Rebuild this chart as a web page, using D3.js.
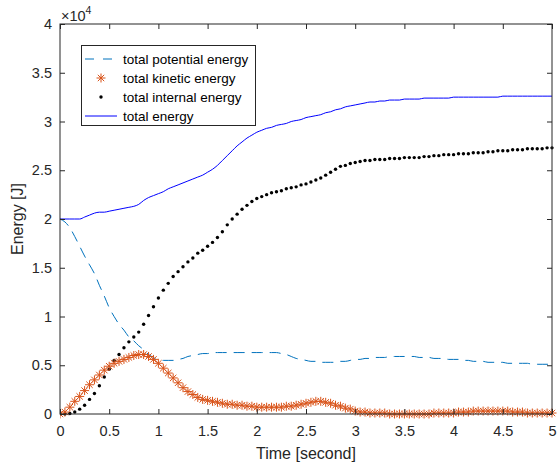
<!DOCTYPE html>
<html>
<head>
<meta charset="utf-8">
<script src="https://cdn.jsdelivr.net/npm/d3@7"></script>
<style>
  body { margin: 0; background: #fff; }
  svg { display: block; font-family: "Liberation Sans", Arial, sans-serif; }
  .tick text { fill: #262626; font-size: 14.5px; }
  .tick line { stroke: #262626; }
  .domain { stroke: none; }
</style>
</head>
<body>
<svg></svg>
<script>
// time samples [s]
const timeSec = [
  0.00, 0.05, 0.10, 0.15, 0.20, 0.25, 0.30, 0.35, 0.40, 0.45,
  0.50, 0.55, 0.60, 0.65, 0.70, 0.75, 0.80, 0.85, 0.90, 0.95,
  1.00, 1.05, 1.10, 1.15, 1.20, 1.25, 1.30, 1.35, 1.40, 1.45,
  1.50, 1.55, 1.60, 1.65, 1.70, 1.75, 1.80, 1.85, 1.90, 1.95,
  2.00, 2.05, 2.10, 2.15, 2.20, 2.25, 2.30, 2.35, 2.40, 2.45,
  2.50, 2.55, 2.60, 2.65, 2.70, 2.75, 2.80, 2.85, 2.90, 2.95,
  3.00, 3.05, 3.10, 3.15, 3.20, 3.25, 3.30, 3.35, 3.40, 3.45,
  3.50, 3.55, 3.60, 3.65, 3.70, 3.75, 3.80, 3.85, 3.90, 3.95,
  4.00, 4.05, 4.10, 4.15, 4.20, 4.25, 4.30, 4.35, 4.40, 4.45,
  4.50, 4.55, 4.60, 4.65, 4.70, 4.75, 4.80, 4.85, 4.90, 4.95,
  5.00
];

// energies [J]
const potentialEnergy = [
  20000, 19700, 19100, 18200, 17200, 16200, 15300, 14400, 13200, 12100,
  10900, 10000, 9200, 8600, 7900, 7500, 7000, 6600, 6100, 5800,
  5500, 5500, 5500, 5500, 5600, 5700, 5900, 6000, 6100, 6200,
  6200, 6300, 6300, 6300, 6300, 6300, 6300, 6300, 6300, 6300,
  6300, 6300, 6300, 6300, 6300, 6200, 6100, 5900, 5700, 5600,
  5500, 5400, 5400, 5300, 5300, 5300, 5300, 5400, 5400, 5500,
  5600, 5600, 5700, 5700, 5800, 5800, 5800, 5900, 5900, 5900,
  5900, 5900, 5900, 5800, 5800, 5800, 5700, 5700, 5700, 5600,
  5600, 5600, 5500, 5500, 5400, 5400, 5400, 5300, 5300, 5300,
  5300, 5200, 5200, 5200, 5200, 5200, 5100, 5100, 5100, 5100,
  5100
];

const kineticEnergy = [
  0, 200, 700, 1300, 1800, 2400, 3000, 3500, 4000, 4500,
  4900, 5200, 5400, 5600, 5800, 6000, 6100, 6100, 5900, 5600,
  5200, 4700, 4200, 3700, 3200, 2700, 2300, 2000, 1700, 1500,
  1400, 1300, 1200, 1100, 1000, 1000, 900, 900, 800, 800,
  700, 700, 700, 700, 700, 700, 800, 800, 900, 1000,
  1100, 1200, 1300, 1300, 1200, 1100, 900, 800, 600, 500,
  300, 200, 200, 100, 100, 100, 100, 0, 0, 0,
  0, 0, 0, 0, 0, 0, 100, 100, 100, 100,
  100, 200, 200, 200, 300, 300, 300, 300, 300, 300,
  300, 300, 200, 200, 200, 100, 100, 100, 100, 100,
  100
];

const internalEnergy = [
  0, 0, 50, 200, 500, 900, 1500, 2100, 2900, 3800,
  4600, 5500, 6100, 6800, 7400, 7900, 8400, 9200, 10100, 11000,
  11900, 12700, 13400, 14100, 14600, 15100, 15600, 16000, 16500, 16800,
  17200, 17600, 18100, 18700, 19400, 20000, 20500, 21000, 21400, 21800,
  22100, 22300, 22500, 22700, 22800, 22900, 23100, 23200, 23300, 23500,
  23600, 23800, 24000, 24200, 24500, 24800, 25100, 25400, 25500, 25700,
  25800, 25900, 26000, 26000, 26100, 26100, 26100, 26200, 26200, 26200,
  26300, 26300, 26300, 26300, 26400, 26400, 26500, 26500, 26600, 26600,
  26600, 26700, 26700, 26700, 26800, 26800, 26800, 26900, 26900, 27000,
  27000, 27000, 27100, 27100, 27100, 27200, 27200, 27200, 27200, 27300,
  27300
];

const totalEnergy = [
  20000, 20000, 20000, 20000, 20000, 20200, 20400, 20600, 20700, 20700,
  20800, 20900, 21000, 21100, 21200, 21300, 21500, 21900, 22200, 22400,
  22600, 22800, 23100, 23300, 23500, 23700, 23900, 24100, 24300, 24500,
  24800, 25100, 25500, 26000, 26500, 27000, 27500, 27900, 28300, 28600,
  28900, 29100, 29300, 29400, 29600, 29700, 29800, 30000, 30100, 30200,
  30400, 30500, 30600, 30700, 30900, 31000, 31200, 31300, 31500, 31600,
  31700, 31800, 31900, 32000, 32000, 32100, 32100, 32200, 32200, 32200,
  32300, 32300, 32300, 32300, 32400, 32400, 32400, 32400, 32400, 32400,
  32500, 32500, 32500, 32500, 32500, 32500, 32500, 32500, 32500, 32500,
  32600, 32600, 32600, 32600, 32600, 32600, 32600, 32600, 32600, 32600,
  32600
];

const xTickValues = [0, 0.5, 1, 1.5, 2, 2.5, 3, 3.5, 4, 4.5, 5];
const yTickValues = [0, 5000, 10000, 15000, 20000, 25000, 30000, 35000, 40000];
const legendLabels = ["total potential energy", "total kinetic energy", "total internal energy", "total energy"];

function makeChart() {
    let svgWidth = 559;
    let svgHeight = 470;
    let left = 60, right = 552, top = 24, bottom = 414;

    let svg = d3.select('svg')
        .attr('width', svgWidth)
        .attr('height', svgHeight);

    let scaledX = d3.scaleLinear().domain([0, 5]).range([left, right]);
    let scaledY = d3.scaleLinear().domain([0, 40000]).range([bottom, top]);

    svg.append('clipPath').attr('id', 'plotclip')
        .append('rect')
        .attr('x', left).attr('y', top - 5)
        .attr('width', right - left + 5).attr('height', bottom - top + 10);

    let rows = timeSec.map((t, i) => ({
        t: t,
        pe: potentialEnergy[i],
        ke: kineticEnergy[i],
        ie: internalEnergy[i],
        te: totalEnergy[i]
    }));

    let plot = svg.append('g').attr('clip-path', 'url(#plotclip)');

    // potential energy, dashed
    let peLine = d3.line().x(d => scaledX(d.t)).y(d => scaledY(d.pe)).curve(d3.curveMonotoneX);
    plot.append('path')
        .attr('fill', 'none')
        .attr('stroke', '#0072BD')
        .attr('stroke-width', 1)
        .attr('stroke-dasharray', '11,7')
        .attr('d', peLine(rows));

    // total energy, solid
    let teLine = d3.line().x(d => scaledX(d.t)).y(d => scaledY(d.te)).curve(d3.curveMonotoneX);
    plot.append('path')
        .attr('fill', 'none')
        .attr('stroke', '#0000FF')
        .attr('stroke-width', 1)
        .attr('d', teLine(rows));

    // internal energy, dots
    plot.append('g').selectAll('circle')
        .data(rows).enter().append('circle')
        .attr('cx', d => scaledX(d.t))
        .attr('cy', d => scaledY(d.ie))
        .attr('r', 1.7)
        .attr('fill', '#000');

    // kinetic energy, asterisks
    let star = 'M-4.5,0H4.5M0,-4.5V4.5M-3.2,-3.2L3.2,3.2M-3.2,3.2L3.2,-3.2';
    plot.append('g').selectAll('path')
        .data(rows).enter().append('path')
        .attr('d', star)
        .attr('transform', d => 'translate(' + scaledX(d.t) + ',' + scaledY(d.ke) + ')')
        .attr('fill', 'none')
        .attr('stroke', '#D95319')
        .attr('stroke-width', 1);

    // axes, ticks pointing inward
    let axBottom = d3.axisBottom(scaledX).tickValues(xTickValues)
        .tickSize(-5).tickSizeOuter(0).tickPadding(12).tickFormat(d => d);
    svg.append('g').attr('transform', 'translate(0,' + bottom + ')').call(axBottom);

    let axTop = d3.axisTop(scaledX).tickValues(xTickValues)
        .tickSize(-5).tickSizeOuter(0).tickFormat('');
    svg.append('g').attr('transform', 'translate(0,' + top + ')').call(axTop);

    let axLeft = d3.axisLeft(scaledY).tickValues(yTickValues)
        .tickSize(-5).tickSizeOuter(0).tickPadding(8).tickFormat(d => d / 10000);
    svg.append('g').attr('transform', 'translate(' + left + ',0)').call(axLeft);

    let axRight = d3.axisRight(scaledY).tickValues(yTickValues)
        .tickSize(-5).tickSizeOuter(0).tickFormat('');
    svg.append('g').attr('transform', 'translate(' + right + ',0)').call(axRight);

    svg.append('rect')
        .attr('x', left).attr('y', top)
        .attr('width', right - left).attr('height', bottom - top)
        .attr('fill', 'none')
        .attr('stroke', '#262626')
        .attr('stroke-width', 1);

    // exponent label
    let expo = svg.append('text')
        .attr('x', 61).attr('y', 21)
        .attr('fill', '#262626')
        .style('font-size', '14.5px');
    expo.append('tspan').text('\u00d710');
    expo.append('tspan').attr('dy', -7).style('font-size', '10.5px').text('4');

    // axis labels
    svg.append('text')
        .attr('x', (left + right) / 2).attr('y', 459)
        .attr('text-anchor', 'middle')
        .attr('fill', '#262626')
        .style('font-size', '16px')
        .text('Time [second]');

    svg.append('text')
        .attr('transform', 'translate(23,' + (top + bottom) / 2 + ') rotate(-90)')
        .attr('text-anchor', 'middle')
        .attr('fill', '#262626')
        .style('font-size', '16px')
        .text('Energy [J]');

    // legend
    let lg = svg.append('g');
    lg.append('rect')
        .attr('x', 81.5).attr('y', 45.5)
        .attr('width', 174).attr('height', 80)
        .attr('fill', '#fff')
        .attr('stroke', '#262626')
        .attr('stroke-width', 1);

    let rowY = [59, 78, 97, 116];
    legendLabels.forEach(function(label, i) {
        lg.append('text')
            .attr('x', 123).attr('y', rowY[i])
            .attr('dy', '0.35em')
            .attr('fill', '#000')
            .style('font-size', '13.5px')
            .text(label);
    });
    lg.append('line')
        .attr('x1', 85).attr('x2', 117).attr('y1', rowY[0]).attr('y2', rowY[0])
        .attr('stroke', '#0072BD').attr('stroke-dasharray', '9,9');
    lg.append('path')
        .attr('d', star)
        .attr('transform', 'translate(101,' + rowY[1] + ')')
        .attr('fill', 'none').attr('stroke', '#D95319').attr('stroke-width', 1);
    lg.append('circle')
        .attr('cx', 101).attr('cy', rowY[2]).attr('r', 1.7).attr('fill', '#000');
    lg.append('line')
        .attr('x1', 85).attr('x2', 117).attr('y1', rowY[3]).attr('y2', rowY[3])
        .attr('stroke', '#0000FF');
}

makeChart();
</script>
</body>
</html>
